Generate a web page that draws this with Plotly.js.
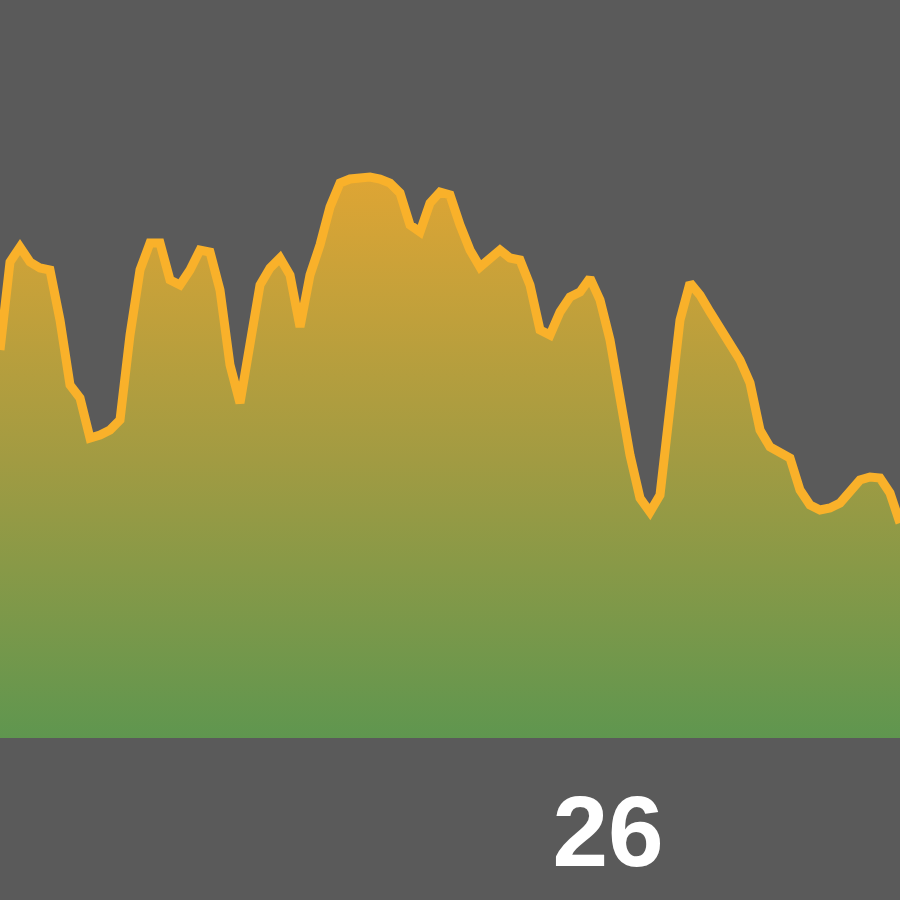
<!DOCTYPE html>
<html>
<head>
<meta charset="utf-8">
<script src="https://cdn.plot.ly/plotly-3.0.1.min.js"></script>
<style>html,body{margin:0;padding:0;background:#5a5a5a;}#chart{width:900px;height:900px;}</style>
</head>
<body>
<div id="chart"></div>
<script>
const days = [10.8,11.05,11.3,11.55,11.8,12.05,12.3,12.55,12.8,13.05,13.3,13.55,13.8,14.05,14.3,14.55,14.8,15.05,15.3,15.55,15.8,16.05,16.3,16.55,16.8,17.05,17.3,17.55,17.8,18.05,18.3,18.55,18.8,19.05,19.3,19.55,19.8,20.05,20.3,20.55,20.8,21.05,21.3,21.55,21.8,22.05,22.3,22.55,22.8,23.05,23.3,23.55,23.8,24.05,24.3,24.55,24.8,25.05,25.3,25.55,25.8,26.05,26.3,26.55,26.8,27.05,27.3,27.55,27.8,28.05,28.3,28.55,28.8,29.05,29.3,29.55,29.8,30.05,30.3,30.55,30.8,31.05,31.3,31.55,31.8,32.05,32.3,32.55,32.8,33.05,33.3];
const values = [388,476,491,476,470,468,418,353,340,300,303,308,318,403,468,495,495,458,453,468,488,486,448,373,335,398,453,470,480,463,411,463,493,531,555,559,561,561,559,555,545,513,506,535,546,543,513,488,471,480,488,480,478,453,408,403,426,441,446,460,438,398,338,283,240,226,243,338,418,455,443,426,410,395,378,355,308,291,285,280,248,233,228,230,235,248,258,261,260,245,215];
const tickValues = [26];
const tickLabels = ["26"];

const trace = {
  x: days,
  y: values,
  type: 'scatter',
  mode: 'lines',
  fill: 'tozeroy',
  line: {color: '#f9b12a', width: 9},
  fillgradient: {
    type: 'vertical',
    start: 0,
    stop: 560,
    colorscale: [[0, '#5f964f'], [0.5, '#a29b42'], [1, '#dea534']]
  },
  hoverinfo: 'skip'
};

const layout = {
  width: 900,
  height: 900,
  paper_bgcolor: '#5a5a5a',
  plot_bgcolor: '#5a5a5a',
  margin: {l: 0, r: 0, t: 0, b: 162, pad: 0},
  showlegend: false,
  xaxis: {
    range: [10.8, 33.3],
    tickvals: tickValues,
    ticktext: tickLabels,
    showgrid: false,
    zeroline: false,
    showline: false,
    ticks: '',
    tickfont: {family: 'Liberation Sans, Arial, sans-serif', size: 100, color: '#ffffff', weight: 'bold'},
    ticklabelstandoff: 27
  },
  yaxis: {
    range: [0, 738],
    showgrid: false,
    zeroline: false,
    showline: false,
    showticklabels: false,
    ticks: ''
  }
};

Plotly.newPlot('chart', [trace], layout, {staticPlot: true, displayModeBar: false});
</script>
</body>
</html>
